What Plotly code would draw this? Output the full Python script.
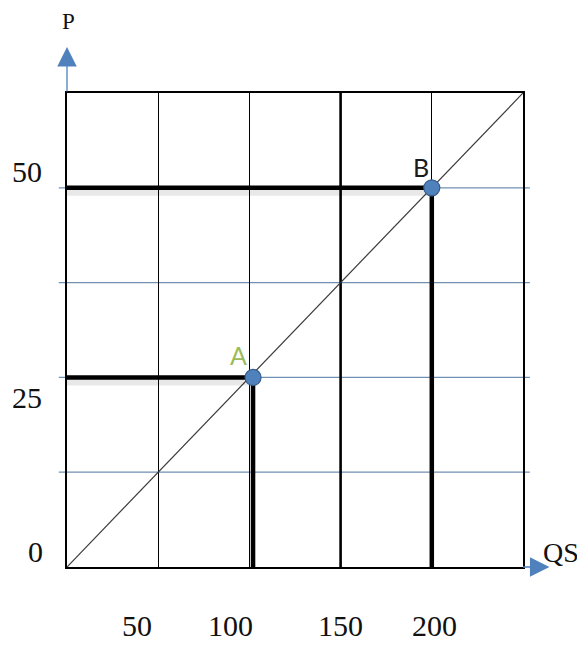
import plotly.graph_objects as go

# ---- data ----
qs_range = [0, 250]
p_range = [0, 62.5]
x_grid = [50, 100, 150, 200]
y_grid = [12.5, 25, 37.5, 50]
x_tick_values = [50, 100, 150, 200]
x_tick_labels = ["50", "100", "150", "200"]
y_tick_values = [50, 25, 0]
y_tick_labels = ["50", "25", "0"]
supply_q = [0, 250]
supply_p = [0, 62.5]
point_names = ["A", "B"]
point_q = [102, 200]
point_p = [25, 50]
bold_grid_q = 150

# ---- styles ----
serif = "Liberation Serif"
blue = "#4f81bd"
x_label_shift = [-21, -19, 0, 3]
y_label_shift = [16, -20, 16]
y_label_xshift = [-40, -40, -32]
name_colors = ["#9bbb59", "#1a1a1a"]
name_shift = [(-15, 22), (-11, 21)]

fig = go.Figure()

# horizontal blue gridlines (slightly extended past the frame)
for yv in y_grid:
    fig.add_shape(type="line", xref="paper", yref="y", x0=-0.018, x1=1.015,
                  y0=yv, y1=yv, line=dict(color="#6f8fb3", width=1.2), layer="below")

# thick vertical line at 150
fig.add_trace(go.Scatter(x=[bold_grid_q, bold_grid_q], y=p_range, mode="lines",
                         line=dict(color="black", width=2.6), hoverinfo="skip", showlegend=False))

# supply diagonal
fig.add_trace(go.Scatter(x=supply_q, y=supply_p, mode="lines",
                         line=dict(color="#3a3a3a", width=1.2), hoverinfo="skip", showlegend=False))

# shadows + thick guide lines
for q, p in zip(point_q, point_p):
    fig.add_trace(go.Scatter(x=[0, q], y=[p - 0.6, p - 0.6], mode="lines",
                             line=dict(color="rgba(0,0,0,0.09)", width=7),
                             hoverinfo="skip", showlegend=False))
    fig.add_trace(go.Scatter(x=[0, q, q], y=[p, p, 0], mode="lines",
                             line=dict(color="black", width=4.5),
                             hoverinfo="skip", showlegend=False))

# points
fig.add_trace(go.Scatter(x=point_q, y=point_p, mode="markers",
                         marker=dict(size=16, color=blue, line=dict(color="#385d8a", width=1.2)),
                         hoverinfo="skip", showlegend=False))

annotations = []
for name, q, p, c, (dx, dy) in zip(point_names, point_q, point_p, name_colors, name_shift):
    annotations.append(dict(x=q, y=p, xref="x", yref="y", text=name, showarrow=False,
                            xshift=dx, yshift=dy, xanchor="center", yanchor="middle",
                            font=dict(family="Lato", size=25, color=c)))

for v, t, s in zip(x_tick_values, x_tick_labels, x_label_shift):
    annotations.append(dict(x=v, y=0, xref="x", yref="paper", text=t, showarrow=False,
                            xshift=s, yshift=-58, xanchor="center", yanchor="middle",
                            font=dict(family=serif, size=30, color="#111")))
for v, t, s, xs in zip(y_tick_values, y_tick_labels, y_label_shift, y_label_xshift):
    annotations.append(dict(x=0, y=v, xref="paper", yref="y", text=t, showarrow=False,
                            xshift=xs, yshift=s, xanchor="center", yanchor="middle",
                            font=dict(family=serif, size=30, color="#111")))

# axis arrows
annotations.append(dict(x=0, y=1.097, xref="paper", yref="paper", ax=0, ay=46,
                        axref="pixel", ayref="pixel", text="", showarrow=True,
                        arrowhead=2, arrowsize=3, arrowwidth=1.3, arrowcolor=blue))
annotations.append(dict(x=1.058, y=0, xref="paper", yref="paper", ax=-28, ay=0,
                        text="", showarrow=True,
                        arrowhead=2, arrowsize=3, arrowwidth=1.3, arrowcolor=blue))
# axis titles
annotations.append(dict(x=0, y=1.15, xref="paper", yref="paper", text="P", showarrow=False,
                        xshift=1, xanchor="center", yanchor="middle",
                        font=dict(family=serif, size=23, color="#111")))
annotations.append(dict(x=1.083, y=0, xref="paper", yref="paper", text="QS", showarrow=False,
                        yshift=15, xanchor="center", yanchor="middle",
                        font=dict(family=serif, size=28, color="#111")))

fig.update_layout(
    width=577, height=638,
    margin=dict(l=59, r=62, t=85, b=79),
    paper_bgcolor="white", plot_bgcolor="white",
    annotations=annotations,
    xaxis=dict(range=qs_range, tickvals=x_grid, showticklabels=False, ticks="",
               showgrid=True, gridcolor="black", gridwidth=1.4, zeroline=False,
               showline=True, linecolor="black", linewidth=1.6, mirror=True, fixedrange=True),
    yaxis=dict(range=p_range, tickvals=y_grid, showticklabels=False, ticks="",
               showgrid=False, zeroline=False,
               showline=True, linecolor="black", linewidth=1.6, mirror=True, fixedrange=True),
)

fig.write_html("out.html")
